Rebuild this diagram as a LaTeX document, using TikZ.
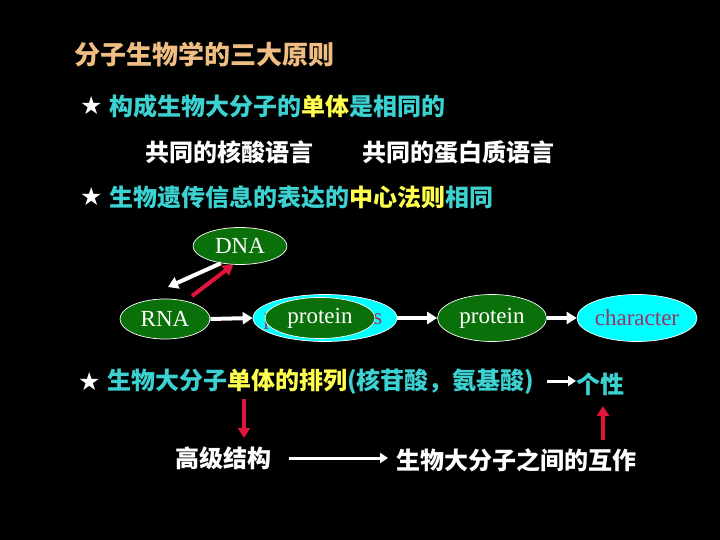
\documentclass[tikz,border=0pt]{standalone}
\usepackage{fontspec}
\setmainfont{Liberation Serif}
\newfontfamily\cjk{Noto Sans CJK SC}
\newfontfamily\sym{DejaVu Sans}
\usetikzlibrary{shapes.geometric,arrows.meta}
\definecolor{tcyan}{RGB}{60,210,210}
\definecolor{tyel}{RGB}{255,255,80}
\definecolor{ttan}{RGB}{240,190,130}
\definecolor{egreen}{RGB}{10,112,10}
\definecolor{ecyan}{RGB}{0,255,255}
\definecolor{epurp}{RGB}{153,51,102}
\definecolor{ared}{RGB}{225,20,60}
\begin{document}
\begin{tikzpicture}[x=1pt,y=-1pt,
  cn/.style={font=\cjk\bfseries\fontsize{24}{28}\selectfont, inner sep=0pt, anchor=west},
  starn/.style={font=\sym\fontsize{25}{28}\selectfont, text=white, inner sep=0pt, anchor=west},
  gell/.style={ellipse, draw=white, line width=0.7pt, fill=egreen, text=white, inner sep=0pt, font=\fontsize{23}{26}\selectfont},
  cell/.style={ellipse, draw=white, line width=0.7pt, fill=ecyan, text=epurp, inner sep=0pt, font=\fontsize{23}{26}\selectfont},
  wa/.style={draw=white, line width=4pt, -{Triangle[length=10pt,width=12pt]}},
  wthin/.style={draw=white, line width=3pt, -{Triangle[length=8pt,width=10pt]}},
  ra/.style={draw=ared, line width=4pt, -{Triangle[length=10pt,width=12pt]}}]
\fill[black] (0,0) rectangle (720,540);
\useasboundingbox (0,0) rectangle (720,540);

\node[cn, text=ttan, font=\cjk\bfseries\fontsize{26}{30}\selectfont] (title) at (74,55) {分子生物学的三大原则};

\node[starn] (s1) at (80,106) {★};
\node[cn, text=tcyan] (l1) at (109,106) {构成生物大分子的\textcolor{tyel}{单体}是相同的};

\node[cn, text=white] (l2a) at (145,152) {共同的核酸语言};
\node[cn, text=white] (l2b) at (362,152) {共同的蛋白质语言};

\node[starn] (s2) at (80,197) {★};
\node[cn, text=tcyan] (l3) at (109,197) {生物遗传信息的表达的\textcolor{tyel}{中心法则}相同};

\node[gell, minimum width=94pt, minimum height=37pt] (dna) at (240,246) {DNA};
\node[gell, minimum width=90pt, minimum height=40pt] (rna) at (165,319) {RNA};
\node[cell, minimum width=144pt, minimum height=47pt] (prots) at (325,318) {};
\node[text=epurp, inner sep=0pt, font=\fontsize{23}{26}\selectfont] (protstxt) at (323,319) {p\kern6.4pt r\kern6.4pt o\kern6.4pt t\kern6.4pt e\kern6.4pt i\kern6.4pt n\kern6.4pt s};
\node[gell, minimum width=110pt, minimum height=41pt] (prot1) at (320,318) {protein};
\node[gell, minimum width=109pt, minimum height=47pt] (prot2) at (492,318) {protein};
\node[cell, minimum width=120pt, minimum height=47pt] (char) at (637,318) {character};

\coordinate (d1) at (168,287);
\coordinate (r1) at (192,296);
\draw[wa] (dna.222) -- (d1);
\draw[ra] (r1) -- (dna.250);
\draw[wa] (rna.east) -- (prots.west);
\draw[wa] (prots.east) -- (prot2.west);
\draw[wa] (prot2.east) -- (char.west);

\node[starn] (s3) at (78,382) {★};
\node[cn, text=tcyan] (l4) at (107,382) {生物大分子\textcolor{tyel}{单体的排列}(核苷酸，氨基酸)};
\node[cn, text=tcyan] (gx) at (576,384) {个性};
\coordinate (g0) at (547,381);
\draw[wthin] (g0) -- (gx.west |- g0);

\node[cn, text=white] (gj) at (175,458) {高级结构};
\node[cn, text=white] (hz) at (396,460) {生物大分子之间的互作};
\draw[wthin] ([xshift=18pt]gj.east) -- ([xshift=-8pt]hz.west |- gj.east);

\coordinate (ra1) at (244,399);
\coordinate (ra2) at (244,438);
\draw[ra] (ra1) -- (ra2);
\coordinate (rb1) at (603,440);
\coordinate (rb2) at (603,406);
\draw[ra] (rb1) -- (rb2);
\end{tikzpicture}
\end{document}
